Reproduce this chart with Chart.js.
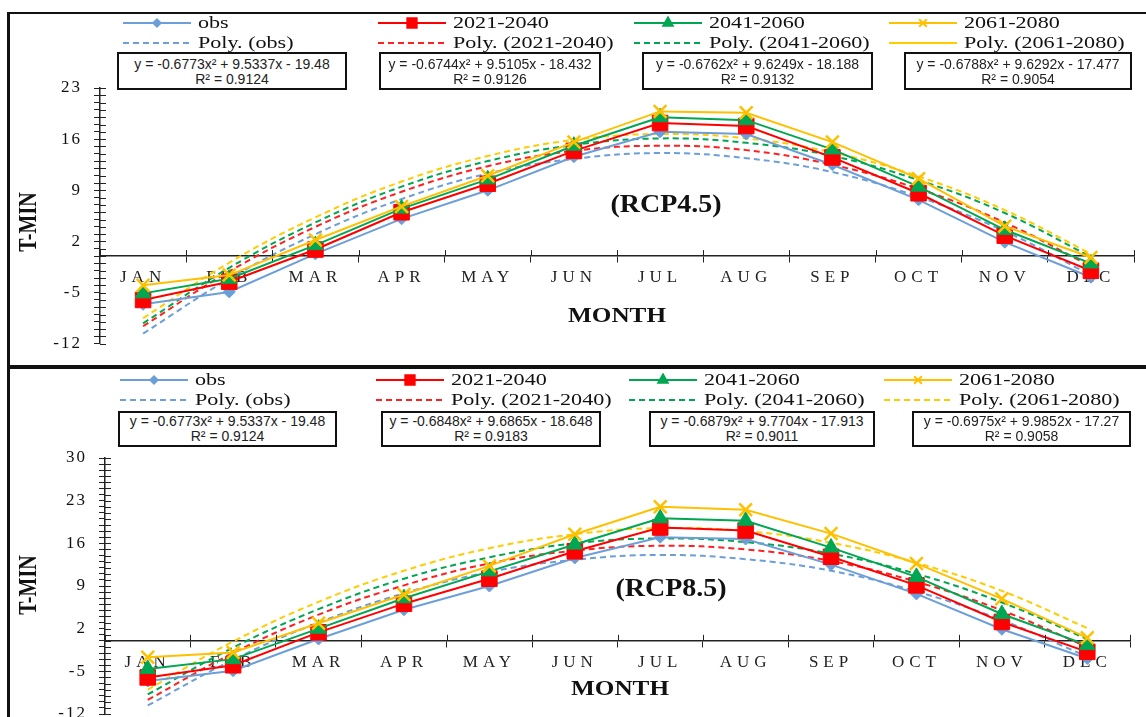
<!DOCTYPE html>
<html>
<head>
<meta charset="utf-8">
<script src="https://cdn.jsdelivr.net/npm/chart.js@4"></script>
<style>
  body { margin: 0; width: 1146px; height: 717px; overflow: hidden; background: #fff; position: relative; font-family: "Liberation Serif", "Times New Roman", serif; }
  canvas { position: absolute; left: 0; }
  .rule { position: absolute; background: #111; z-index: 3; }
  .eq { position: absolute; box-sizing: border-box; border: 2px solid #111; background: #fff; z-index: 2;
        font-family: "Liberation Sans", Arial, sans-serif; font-size: 14px; line-height: 15px; text-align: center; color: #222; }
  .eq span { display: inline-block; transform: scaleX(1.0); white-space: nowrap; }
  .lbl { position: absolute; font-family: "Liberation Serif", "Times New Roman", serif; font-weight: bold; white-space: nowrap; color: #111; z-index: 2; }
</style>
</head>
<body>
<canvas id="rcp45" width="1146" height="366" style="top:0"></canvas>
<canvas id="rcp85" width="1146" height="380" style="top:369px"></canvas>

<div class="rule" style="left:7px;top:12px;width:1139px;height:2px"></div>
<div class="rule" style="left:7px;top:12px;width:3px;height:705px"></div>
<div class="rule" style="left:7px;top:365px;width:1139px;height:4px"></div>

<div id="overlay"></div>

<script>
// month categories and y tick labels
const months = ['JAN', 'FEB', 'MAR', 'APR', 'MAY', 'JUN', 'JUL', 'AUG', 'SEP', 'OCT', 'NOV', 'DEC'];
const yLabels45 = [-12, -5, 2, 9, 16, 23];
const yLabels85 = [-12, -5, 2, 9, 16, 23, 30];
const seriesNames = ['obs', '2021-2040', '2041-2060', '2061-2080'];

// observed T-MIN (same in both panels)
const obs = [-6.6, -4.9, 0.3, 5.1, 9.0, 13.6, 17.0, 16.7, 12.5, 7.7, 1.9, -2.9];

// RCP4.5 projections
const r45_2021 = [-6.0, -3.5, 0.9, 6.0, 9.9, 14.4, 18.2, 17.8, 13.5, 8.6, 2.8, -2.0];
const r45_2041 = [-5.1, -3.1, 1.5, 6.5, 10.5, 15.1, 19.0, 18.6, 14.6, 9.5, 3.6, -1.0];
const r45_2061 = [-4.0, -2.6, 2.2, 6.8, 11.0, 15.6, 19.8, 19.6, 15.6, 10.6, 4.1, -0.2];

// RCP8.5 projections
const r85_2021 = [-6.0, -4.0, 1.4, 6.1, 10.2, 14.7, 18.6, 18.1, 13.8, 9.1, 3.1, -1.8];
const r85_2041 = [-4.6, -3.0, 2.0, 7.0, 11.4, 15.8, 20.1, 19.7, 15.3, 10.5, 4.4, -0.7];
const r85_2061 = [-2.7, -1.9, 2.9, 7.6, 12.3, 17.5, 22.0, 21.5, 17.6, 12.7, 6.9, 0.5];

// polynomial trend lines
const polyObs = [-10.6, -3.1, 3.0, 7.8, 11.3, 13.3, 14.1, 13.4, 11.5, 8.1, 3.4, -2.6];
const poly45_2021 = [-9.6, -2.1, 4.0, 8.8, 12.3, 14.4, 15.1, 14.5, 12.5, 9.2, 4.6, -1.4];
const poly45_2041 = [-9.2, -1.6, 4.6, 9.5, 13.0, 15.2, 16.1, 15.5, 13.7, 10.4, 5.9, -0.1];
const poly45_2061 = [-8.5, -0.9, 5.3, 10.2, 13.7, 15.9, 16.7, 16.1, 14.2, 10.9, 6.3, 0.3];
const poly85_2021 = [-9.7, -2.0, 4.3, 9.1, 12.7, 14.8, 15.6, 15.0, 13.1, 9.7, 5.0, -1.0];
const poly85_2041 = [-8.8, -1.1, 5.2, 10.2, 13.7, 16.0, 16.8, 16.2, 14.3, 11.0, 6.3, 0.3];
const poly85_2061 = [-8.0, -0.1, 6.4, 11.5, 15.2, 17.5, 18.5, 18.0, 16.1, 12.8, 8.2, 2.1];

// trendline equation labels
const eq45 = ['y = -0.6773x² + 9.5337x - 19.48', 'y = -0.6744x² + 9.5105x - 18.432', 'y = -0.6762x² + 9.6249x - 18.188', 'y = -0.6788x² + 9.6292x - 17.477'];
const rsq45 = ['R² = 0.9124', 'R² = 0.9126', 'R² = 0.9132', 'R² = 0.9054'];
const eq85 = ['y = -0.6773x² + 9.5337x - 19.48', 'y = -0.6848x² + 9.6865x - 18.648', 'y = -0.6879x² + 9.7704x - 17.913', 'y = -0.6975x² + 9.9852x - 17.27'];
const rsq85 = ['R² = 0.9124', 'R² = 0.9183', 'R² = 0.9011', 'R² = 0.9058'];

const colors = ['#6c9fd9', '#ff0000', '#00a651', '#ffc000'];
const polyColors = ['#6c9fd9', '#ff2020', '#00a651', '#ffcc00'];
const markers = [['rectRot', 6], ['rect', 11], ['triangle', 9], ['crossRot', 9]];

function buildDatasets(series, polys) {
  const main = series.map((data, i) => ({
    label: seriesNames[i],
    data: data,
    borderColor: colors[i],
    backgroundColor: colors[i],
    borderWidth: 2,
    pointStyle: markers[i][0],
    pointRadius: markers[i][1],
    pointBorderWidth: i === 3 ? 2.5 : 1,
    tension: 0,
    order: 4 - i
  }));
  const trend = polys.map((data, i) => ({
    label: 'Poly. (' + seriesNames[i] + ')',
    data: data,
    borderColor: polyColors[i],
    backgroundColor: polyColors[i],
    borderWidth: 2,
    borderDash: [6, 4],
    pointRadius: 0,
    tension: 0.4,
    order: 5 + i
  }));
  return main.concat(trend);
}

// x tick labels before the datasets get wide spacing, y labels after them a smaller one
const letterSpacing = {
  id: 'letterSpacing',
  beforeDraw(chart) { chart.ctx.letterSpacing = '5px'; },
  afterDatasetsDraw(chart) { chart.ctx.letterSpacing = '2px'; },
  afterDraw(chart) { chart.ctx.letterSpacing = '0px'; }
};

// short tick stubs on the inner side of both axes
const crossTicks = {
  id: 'crossTicks',
  afterDraw(chart) {
    const ctx = chart.ctx, x = chart.scales.x, y = chart.scales.y;
    const x0 = chart.chartArea.left, y0 = y.getPixelForValue(0);
    ctx.save();
    ctx.strokeStyle = '#222';
    ctx.lineWidth = 1;
    ctx.beginPath();
    y.ticks.forEach(t => {
      const py = Math.round(y.getPixelForValue(t.value)) + 0.5;
      ctx.moveTo(x0, py); ctx.lineTo(x0 + 6, py);
    });
    for (let i = 0; i <= months.length; i++) {
      const px = Math.round(x.getPixelForValue(i - 0.5)) + 0.5;
      ctx.moveTo(px, y0); ctx.lineTo(px, y0 - 6);
    }
    ctx.stroke();
    ctx.restore();
  }
};

// legend in a 4 x 2 grid like the original
const legendGrid = {
  id: 'legendGrid',
  afterDraw(chart, args, opts) {
    const ctx = chart.ctx;
    ctx.save();
    ctx.letterSpacing = '0px';
    chart.data.datasets.forEach((ds, i) => {
      const col = i % 4, row = Math.floor(i / 4);
      const x0 = opts.cols[col], y = opts.rows[row];
      ctx.strokeStyle = ds.borderColor;
      ctx.fillStyle = ds.backgroundColor;
      ctx.lineWidth = 2;
      ctx.setLineDash(opts.solid.includes(i) ? [] : (ds.borderDash || []));
      ctx.beginPath();
      ctx.moveTo(x0, y); ctx.lineTo(x0 + opts.len, y);
      ctx.stroke();
      ctx.setLineDash([]);
      if (ds.pointRadius) {
        Chart.helpers.drawPoint(ctx, {
          pointStyle: ds.pointStyle, rotation: 0,
          radius: ds.pointRadius * 0.6, borderWidth: ds.pointBorderWidth
        }, x0 + opts.len / 2, y);
      }
      ctx.save();
      ctx.translate(x0 + opts.text, y);
      ctx.scale(1.3, 1);
      ctx.font = '17px "Liberation Serif", serif';
      ctx.fillStyle = '#111';
      ctx.textBaseline = 'middle';
      ctx.fillText(ds.label, 0, 1);
      ctx.restore();
    });
    ctx.restore();
  }
};

function makeChart(id, series, polys, yMax, yLabels, geo) {
  return new Chart(document.getElementById(id), {
    type: 'line',
    data: { labels: months, datasets: buildDatasets(series, polys) },
    plugins: [letterSpacing, crossTicks, legendGrid],
    options: {
      responsive: false,
      animation: false,
      devicePixelRatio: 1,
      layout: { padding: geo.padding },
      plugins: {
        legend: { display: false },
        tooltip: { enabled: false },
        legendGrid: geo.legend
      },
      scales: {
        x: {
          type: 'category',
          position: { y: 0 },
          offset: true,
          grid: { drawOnChartArea: false, offset: true, tickLength: 6, color: '#222' },
          border: { color: '#222', width: 1.5 },
          ticks: {
            autoSkip: false, maxRotation: 0, padding: 5, color: '#222',
            font: { family: '"Liberation Serif", serif', size: 17 }
          }
        },
        y: {
          position: 'left',
          min: -12,
          max: yMax,
          afterFit: s => { s.width = geo.yWidth; },
          grid: { drawOnChartArea: false, tickLength: 6, color: '#222' },
          border: { color: '#222', width: 1.5 },
          ticks: {
            stepSize: 1, autoSkip: false, padding: 12, z: 1, color: '#111',
            font: { family: '"Liberation Serif", serif', size: 17 },
            callback: v => yLabels.includes(v) ? String(v) : ''
          }
        }
      }
    }
  });
}

makeChart('rcp45', [obs, r45_2021, r45_2041, r45_2061], [polyObs, poly45_2021, poly45_2041, poly45_2061], 23, yLabels45, {
  yWidth: 100,
  padding: { left: 0, right: 11, top: 88, bottom: 11 },
  legend: { cols: [123, 378, 634, 889], rows: [23, 43], len: 68, text: 75, solid: [7] }
});

makeChart('rcp85', [obs, r85_2021, r85_2041, r85_2061], [polyObs, poly85_2021, poly85_2041, poly85_2061], 30, yLabels85, {
  yWidth: 105,
  padding: { left: 0, right: 16, top: 89, bottom: 35 },
  legend: { cols: [120, 376, 629, 884], rows: [11, 31], len: 68, text: 75, solid: [] }
});

// equation boxes and text labels
const overlay = document.getElementById('overlay');
function addBox(left, top, width, height, padTop, eq, rsq) {
  const d = document.createElement('div');
  d.className = 'eq';
  d.style.cssText = `left:${left}px;top:${top}px;width:${width}px;height:${height}px;padding-top:${padTop}px`;
  d.innerHTML = `<span>${eq}</span><br><span>${rsq}</span>`;
  overlay.appendChild(d);
}
function addLabel(text, cx, cy, size, transform) {
  const d = document.createElement('div');
  d.className = 'lbl';
  d.textContent = text;
  d.style.cssText = `left:${cx}px;top:${cy}px;font-size:${size}px;transform:translate(-50%,-50%) ${transform}`;
  overlay.appendChild(d);
}
const boxes45 = [[117, 230], [379, 222], [642, 231], [904, 228]];
const boxes85 = [[118, 219], [381, 220], [649, 226], [912, 219]];
boxes45.forEach((b, i) => addBox(b[0], 52, b[1], 38, 3, eq45[i], rsq45[i]));
boxes85.forEach((b, i) => addBox(b[0], 411, b[1], 36, 1, eq85[i], rsq85[i]));

addLabel('(RCP4.5)', 666, 204, 25, 'scaleX(1.12)');
addLabel('(RCP8.5)', 671, 588, 25, 'scaleX(1.12)');
addLabel('MONTH', 617, 315, 21, 'scaleX(1.2)');
addLabel('MONTH', 620, 688, 21, 'scaleX(1.2)');
addLabel('T-MIN', 28, 222, 20, 'rotate(-90deg) scaleY(1.25)');
addLabel('T-MIN', 28, 585, 20, 'rotate(-90deg) scaleY(1.25)');
</script>
</body>
</html>
